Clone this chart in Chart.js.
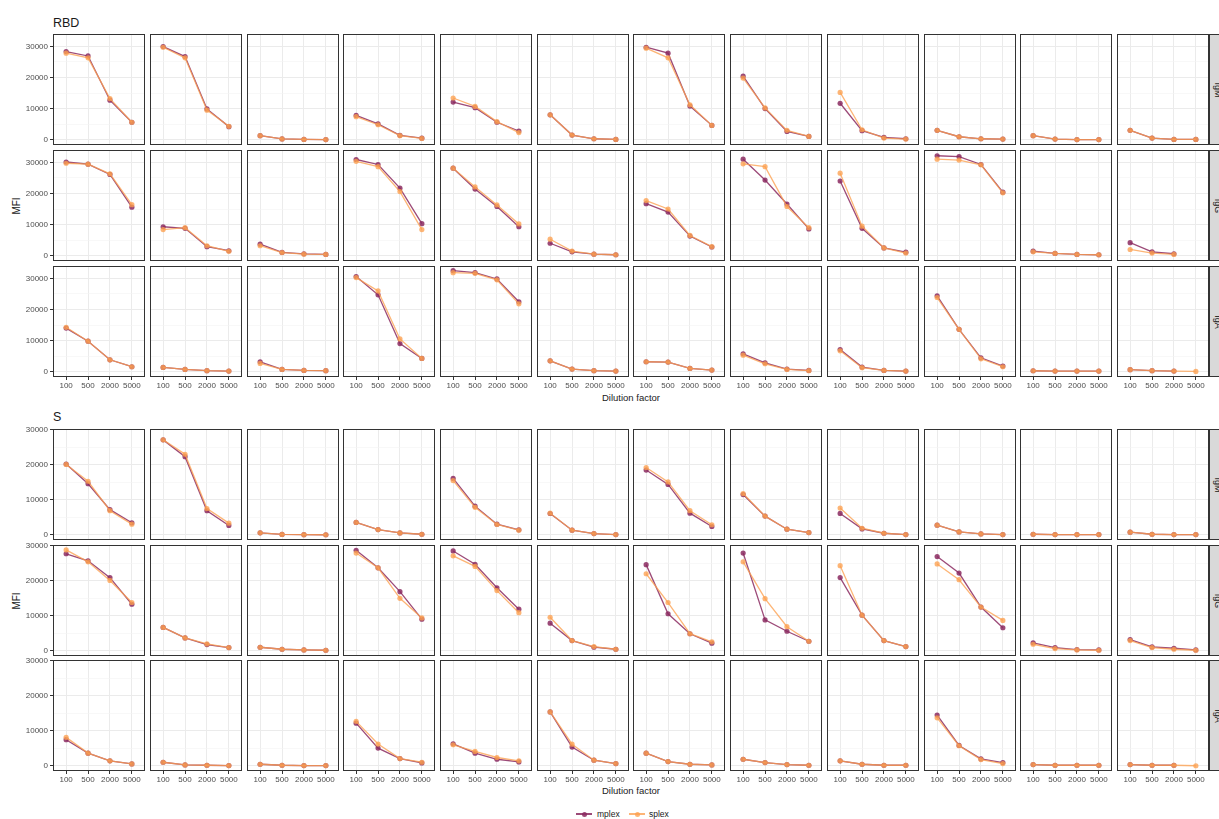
<!DOCTYPE html>
<html>
<head>
<meta charset="utf-8">
<title>MFI by dilution factor</title>
<script src="https://cdn.jsdelivr.net/npm/chart.js@4.4.0/dist/chart.umd.min.js"></script>
<style>
  html, body { margin: 0; padding: 0; background: #fff; }
  #page {
    position: relative; width: 1219px; height: 819px; overflow: hidden;
    font-family: "Liberation Sans", Arial, Helvetica, sans-serif; color: #1a1a1a;
  }
  .panel { position: absolute; }
  .txt { position: absolute; white-space: nowrap; line-height: 1; }
  .strip {
    position: absolute; background: #d9d9d9; box-sizing: border-box;
    border: 1px solid #333;
  }
  .strip span {
    position: absolute; left: 50%; top: 50%; transform: translate(-50%, -50%);
    writing-mode: vertical-rl; font-size: 9px; color: #1a1a1a; line-height: 1;
  }
  .key { position: absolute; height: 10px; }
  .key i { position: absolute; left: 0; right: 0; top: 4.4px; height: 1.2px; }
  .key b { position: absolute; left: 50%; top: 50%; width: 5px; height: 5px; margin: -2.5px 0 0 -2.5px; border-radius: 50%; }
</style>
</head>
<body>
<div id="page"></div>
<script>
const dilutions = ['100', '500', '2000', '5000'];
const isotypes = ['IgM', 'IgG', 'IgA'];

// one row per sample: MFI at dilution 100, 500, 2000, 5000
const rbdIgM_mplex = [
  [28300, 26900, 12700, 5600], [29900, 26700, 9900, 4200], [1300, 250, 100, 50],
  [7800, 5100, 1400, 500], [12100, 10300, 5600, 2800], [8000, 1500, 300, 100],
  [29700, 27800, 10800, 4600], [20400, 10000, 2650, 1060], [11700, 2900, 740, 300],
  [3000, 950, 300, 200], [1300, 200, 50, 50], [3000, 530, 100, 100]
];
const rbdIgM_splex = [
  [27800, 26300, 13200, 5600], [29700, 26300, 9500, 4300], [1300, 250, 100, 50],
  [7400, 4800, 1300, 400], [13400, 10700, 5800, 2300], [8000, 1500, 300, 100],
  [29400, 26300, 11200, 4600], [19800, 10200, 3000, 1060], [15200, 3200, 530, 200],
  [3000, 950, 300, 200], [1300, 200, 50, 50], [3000, 530, 100, 100]
];
const rbdIgG_mplex = [
  [30100, 29400, 26100, 15600], [9300, 8800, 2900, 1600], [3700, 1050, 600, 400],
  [30900, 29300, 21700, 10300], [28100, 21400, 15800, 9300], [4000, 1260, 500, 300],
  [16700, 14000, 6300, 2800], [31000, 24300, 16600, 8600], [24000, 8800, 2500, 1150],
  [32100, 31800, 29300, 20400], [1470, 740, 420, 300], [4200, 1260, 630, null]
];
const rbdIgG_splex = [
  [29700, 29400, 26300, 16400], [8400, 9000, 3200, 1400], [3200, 1000, 500, 400],
  [30300, 28600, 20600, 8400], [28100, 22100, 16300, 10200], [5300, 1500, 500, 300],
  [17700, 15000, 6500, 2900], [29500, 28600, 15800, 9000], [26500, 9500, 2500, 840],
  [31000, 30700, 29200, 20200], [1260, 740, 420, 300], [2000, 840, 420, null]
];
const rbdIgA_mplex = [
  [14000, 9790, 3830, 1600], [1380, 745, 320, 210], [3190, 745, 425, 320],
  [30540, 24690, 9040, 4260], [32450, 31810, 29790, 22450], [3510, 850, 320, 210],
  [3190, 3090, 1060, 530], [5750, 2870, 850, 425], [7130, 1490, 425, 210],
  [24370, 13620, 4470, 1810], [300, 200, 200, 200], [640, 320, 210, null]
];
const rbdIgA_splex = [
  [14260, 9790, 3830, 1600], [1380, 745, 320, 210], [2660, 745, 425, 320],
  [30220, 25960, 10530, 4260], [31810, 31600, 29500, 21800], [3510, 850, 320, 210],
  [3190, 3090, 1060, 530], [5320, 2550, 745, 320], [6700, 1280, 425, 210],
  [23830, 13620, 4150, 1600], [300, 200, 200, 200], [640, 320, 210, 100]
];

const sIgM_mplex = [
  [20200, 14600, 7200, 3450], [27100, 22300, 6900, 2700], [600, 150, 80, 50],
  [3550, 1530, 575, 190], [16100, 8200, 3070, 1440], [6100, 1340, 380, 100],
  [18500, 14400, 6200, 2400], [11500, 5360, 1630, 670], [6130, 1720, 480, 100],
  [2780, 860, 290, 100], [190, 100, 100, 100], [770, 190, 100, 100]
];
const sIgM_splex = [
  [20100, 15300, 6900, 3070], [27100, 23000, 7500, 3350], [600, 150, 80, 50],
  [3550, 1530, 575, 190], [15500, 7860, 2970, 1340], [6200, 1340, 380, 100],
  [19200, 15100, 6900, 2900], [11800, 5360, 1630, 670], [7660, 1900, 480, 100],
  [2780, 860, 290, 100], [190, 100, 100, 100], [770, 190, 100, 100]
];
const sIgG_mplex = [
  [27700, 25700, 20900, 13300], [6700, 3700, 1800, 950], [1050, 480, 290, 190],
  [28700, 23700, 16900, 9050], [28500, 24700, 18000, 11900], [7900, 2950, 1050, 480],
  [24600, 10600, 4900, 2200], [27900, 8850, 5600, 2760], [20900, 10200, 2950, 1240],
  [26900, 22200, 12500, 6600], [2300, 950, 380, 290], [3240, 1140, 760, 290]
];
const sIgG_splex = [
  [28800, 25400, 20100, 13800], [6700, 3700, 2000, 950], [1050, 480, 290, 190],
  [27900, 23700, 15000, 9400], [27100, 24100, 17200, 10900], [9600, 2950, 1240, 480],
  [22000, 13800, 4900, 2600], [25400, 14900, 6900, 2760], [24300, 10200, 2950, 1240],
  [24800, 20300, 12500, 8700], [1900, 670, 290, 190], [2950, 950, 480, 190]
];
const sIgA_mplex = [
  [7470, 3640, 1440, 575], [1050, 290, 190, 100], [480, 190, 100, 100],
  [12200, 5080, 2100, 860], [6300, 3640, 1900, 1150], [15400, 5360, 1630, 670],
  [3640, 1250, 480, 290], [1900, 960, 380, 190], [1440, 480, 190, 190],
  [14500, 5840, 2000, 960], [380, 190, 190, 190], [380, 190, 190, null]
];
const sIgA_splex = [
  [8140, 3640, 1440, 575], [1050, 290, 190, 100], [480, 190, 100, 100],
  [12700, 6230, 2100, 1050], [6030, 4120, 2400, 1440], [15400, 6200, 1630, 670],
  [3640, 1250, 480, 290], [1900, 960, 380, 190], [1440, 480, 190, 190],
  [13700, 5750, 1820, 670], [380, 190, 190, 190], [380, 190, 190, 50]
];

const yTicks = [0, 5000, 10000, 15000, 20000, 25000, 30000];

// page geometry for the two facet grids
const COL_LEFTS = [53, 150, 247, 343, 440, 537, 633, 730, 827, 924, 1020, 1117];
const PANEL_W = 92, PANEL_H = 111, Y_AXIS_W = 53, X_AXIS_H = 16, STRIP_X = 1209;
const LABEL_ROOM = 6; // headroom above the left facets so the top tick label is not cut

const blocks = [
  { title: 'RBD', titleY: 22.5, rowTops: [34, 150, 266], xTitleY: 398, yMin: -1700, yMax: 33950,
    mplex: [rbdIgM_mplex, rbdIgG_mplex, rbdIgA_mplex], splex: [rbdIgM_splex, rbdIgG_splex, rbdIgA_splex] },
  { title: 'S', titleY: 416.5, rowTops: [429, 545, 660], xTitleY: 791, yMin: -1450, yMax: 30200,
    mplex: [sIgM_mplex, sIgG_mplex, sIgA_mplex], splex: [sIgM_splex, sIgG_splex, sIgA_splex] }
];

const COLORS = {
  mplex: 'rgba(139, 42, 96, 0.85)',
  splex: 'rgba(252, 160, 80, 0.78)'
};

Chart.defaults.font.family = '"Liberation Sans", Arial, Helvetica, sans-serif';
Chart.defaults.color = '#4d4d4d';

const page = document.getElementById('page');

// box around each facet, drawn over the lines like a ggplot panel border
const panelBorder = {
  id: 'panelBorder',
  afterDraw(chart) {
    const { ctx, chartArea: a } = chart;
    ctx.save();
    ctx.strokeStyle = '#333333';
    ctx.lineWidth = 1;
    ctx.strokeRect(a.left + 0.5, a.top + 0.5, a.right - a.left - 1, a.bottom - a.top - 1);
    ctx.restore();
  }
};

// fixed axis sizes so every facet keeps the same plot box
function fixSize(s, size, vertical) {
  if (vertical) s.width = size; else s.height = size;
  s.paddingTop = 0;
  s.paddingBottom = 0;
  s.paddingLeft = 0;
  s.paddingRight = 0;
}

const isMinor = ctx => ctx.tick && ctx.tick.value % 10000 !== 0;
const toPoints = vals => vals.map((v, i) => ({ x: i + 1, y: v }));

function lineSet(label, vals, order) {
  return {
    label,
    data: toPoints(vals),
    borderColor: COLORS[label],
    backgroundColor: COLORS[label],
    borderWidth: 1.3,
    pointRadius: 2.6,
    pointBorderWidth: 0,
    pointBackgroundColor: COLORS[label],
    tension: 0,
    spanGaps: false,
    order
  };
}

function addPanel(block, row, col) {
  const leftAxis = col === 0;
  const bottomAxis = row === 2;
  const padTop = leftAxis ? LABEL_ROOM : 0;
  const w = PANEL_W + (leftAxis ? Y_AXIS_W : 0);
  const h = PANEL_H + padTop + (bottomAxis ? X_AXIS_H : 0);

  const canvas = document.createElement('canvas');
  canvas.className = 'panel';
  canvas.width = w;
  canvas.height = h;
  canvas.style.width = w + 'px';
  canvas.style.height = h + 'px';
  canvas.style.left = (COL_LEFTS[col] - (leftAxis ? Y_AXIS_W : 0)) + 'px';
  canvas.style.top = (block.rowTops[row] - padTop) + 'px';
  page.appendChild(canvas);

  new Chart(canvas, {
    type: 'line',
    data: {
      datasets: [
        lineSet('splex', block.splex[row][col], 0),
        lineSet('mplex', block.mplex[row][col], 1)
      ]
    },
    options: {
      responsive: false,
      animation: false,
      devicePixelRatio: 1,
      layout: { padding: { top: padTop, left: 0, right: 0, bottom: 0 }, autoPadding: false },
      plugins: { legend: { display: false }, tooltip: { enabled: false } },
      scales: {
        x: {
          type: 'linear',
          min: 0.4,
          max: 4.6,
          afterBuildTicks: s => { s.ticks = dilutions.map((d, i) => ({ value: i + 1 })); },
          afterFit: s => fixSize(s, bottomAxis ? X_AXIS_H : 0, false),
          ticks: {
            display: bottomAxis,
            autoSkip: false,
            maxRotation: 0,
            padding: 1,
            font: { size: 8 },
            color: '#4d4d4d',
            callback: v => dilutions[v - 1]
          },
          grid: {
            color: '#ebebeb',
            lineWidth: 1,
            drawTicks: bottomAxis,
            tickLength: 3,
            tickColor: '#333333'
          },
          border: { display: false }
        },
        y: {
          min: block.yMin,
          max: block.yMax,
          afterBuildTicks: s => { s.ticks = yTicks.map(v => ({ value: v })); },
          afterFit: s => fixSize(s, leftAxis ? Y_AXIS_W : 0, true),
          ticks: {
            display: leftAxis,
            autoSkip: false,
            padding: 2,
            font: { size: 8 },
            color: '#4d4d4d',
            callback: v => (v % 10000 === 0 ? String(v) : '')
          },
          grid: {
            color: ctx => (isMinor(ctx) ? '#f3f3f3' : '#ebebeb'),
            lineWidth: ctx => (isMinor(ctx) ? 0.6 : 1),
            drawTicks: leftAxis,
            tickLength: 3,
            tickColor: ctx => (isMinor(ctx) ? 'rgba(0,0,0,0)' : '#333333')
          },
          border: { display: false }
        }
      }
    },
    plugins: [panelBorder]
  });
}

function addText(text, x, y, size, opts = {}) {
  const el = document.createElement('div');
  el.className = 'txt';
  el.textContent = text;
  el.style.fontSize = size + 'px';
  el.style.left = x + 'px';
  el.style.top = y + 'px';
  el.style.transform = opts.transform || 'translate(-50%, -50%)';
  if (opts.color) el.style.color = opts.color;
  page.appendChild(el);
  return el;
}

blocks.forEach(block => {
  addText(block.title, 53, block.titleY, 12.5, { transform: 'translateY(-50%)' });
  const midRow = block.rowTops[1] + PANEL_H / 2;
  addText('MFI', 17, midRow, 10, { transform: 'translate(-50%, -50%) rotate(-90deg)' });
  addText('Dilution factor', (COL_LEFTS[0] + STRIP_X) / 2, block.xTitleY, 9.5);

  isotypes.forEach((iso, row) => {
    for (let col = 0; col < COL_LEFTS.length; col++) addPanel(block, row, col);
    const strip = document.createElement('div');
    strip.className = 'strip';
    strip.style.left = STRIP_X + 'px';
    strip.style.top = block.rowTops[row] + 'px';
    strip.style.width = '16px';
    strip.style.height = PANEL_H + 'px';
    const label = document.createElement('span');
    label.textContent = iso;
    strip.appendChild(label);
    page.appendChild(strip);
  });
});

// legend under the S grid
const legendItems = [
  { name: 'mplex', keyLeft: 576, textLeft: 597 },
  { name: 'splex', keyLeft: 629, textLeft: 649 }
];
legendItems.forEach(item => {
  const key = document.createElement('div');
  key.className = 'key';
  key.style.left = item.keyLeft + 'px';
  key.style.top = '809px';
  key.style.width = '16px';
  const line = document.createElement('i');
  line.style.background = COLORS[item.name];
  const dot = document.createElement('b');
  dot.style.background = COLORS[item.name];
  key.appendChild(line);
  key.appendChild(dot);
  page.appendChild(key);
  addText(item.name, item.textLeft, 814, 8.5, { transform: 'translateY(-50%)' });
});
</script>
</body>
</html>
